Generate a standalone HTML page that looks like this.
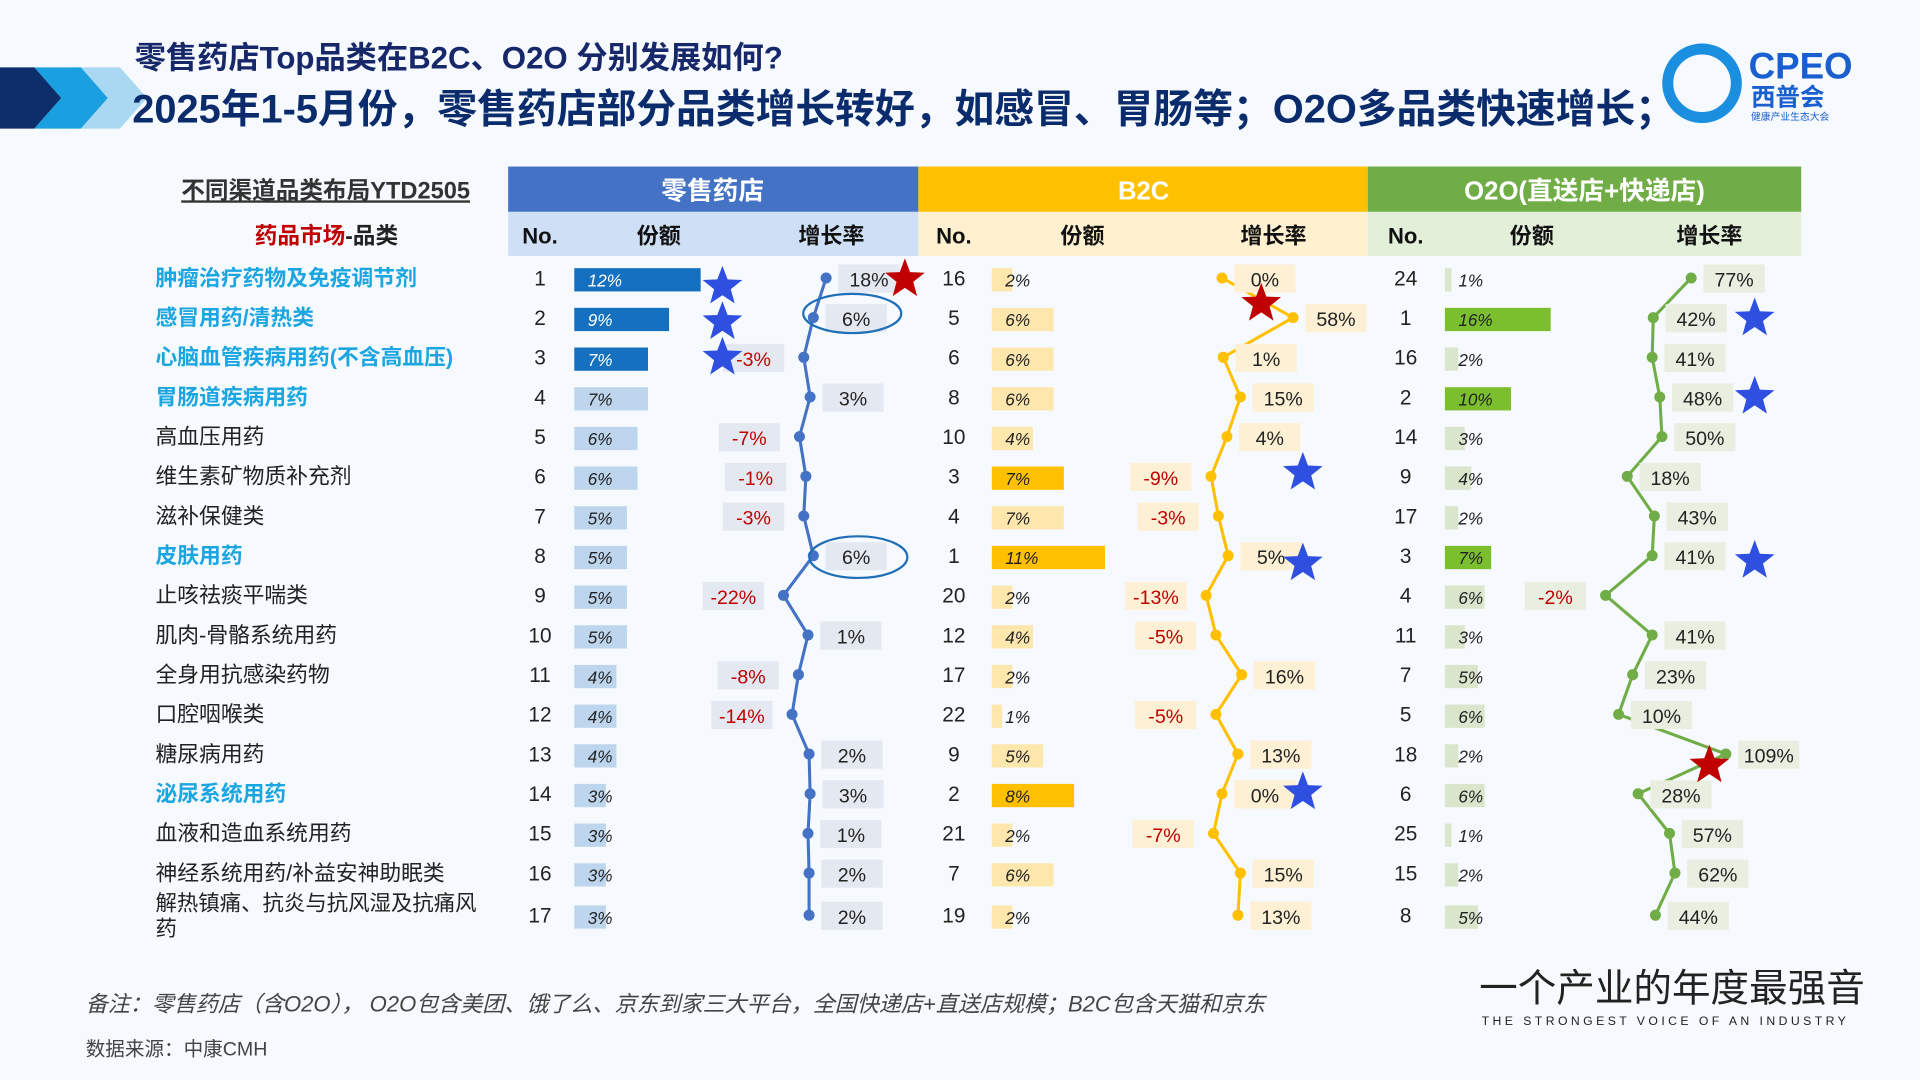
<!DOCTYPE html>
<html><head><meta charset="utf-8">
<style>
html,body{margin:0;padding:0;background:#f6f9fd;}
svg{display:block;font-family:"Liberation Sans","Noto Sans CJK SC",sans-serif;}
</style></head>
<body>
<svg id="chart" width="1920" height="1080" viewBox="0 0 1568 882" xmlns="http://www.w3.org/2000/svg">
<rect width="1568" height="882" fill="#f6f9fd"/>
<g>
<polygon points="60,55 98,55 120,80 98,105 60,105 82,80" fill="#a9d8f3"/>
<polygon points="28,55 66,55 88,80 66,105 28,105 50,80" fill="#1aa0e0"/>
<polygon points="0,55 28,55 50,80 28,105 0,105" fill="#0d2d6b"/>
</g>
<text x="110" y="56" font-size="25.5" font-weight="bold" fill="#17286a">零售药店Top品类在B2C、O2O 分别发展如何?</text>
<text x="108" y="100" font-size="32.5" font-weight="bold" fill="#0b2c6c">2025年1-5月份，零售药店部分品类增长转好，如感冒、胃肠等；O2O多品类快速增长；</text>
<g>
<circle cx="1390" cy="68" r="28" fill="none" stroke="#1a8fe0" stroke-width="9"/>
<text x="1428" y="64" font-size="30" font-weight="bold" fill="#1a5fd0">CPEO</text>
<text x="1430" y="86" font-size="20" font-weight="bold" fill="#1a5fd0">西普会</text>
<text x="1430" y="98" font-size="8" fill="#1a5fd0">健康产业生态大会</text>
</g>
<text x="148" y="162" font-size="19.3" font-weight="bold" fill="#333" text-decoration="underline">不同渠道品类布局YTD2505</text>
<text x="208" y="199" font-size="18.5" font-weight="bold"><tspan fill="#c00000">药品市场</tspan><tspan fill="#222">-品类</tspan></text>
<g>
<rect x="415" y="136" width="335" height="37" fill="#4472c4"/>
<rect x="415" y="173" width="335" height="36" fill="#cfe0f6"/>
<text x="582" y="163" font-size="21" font-weight="bold" fill="#fff" text-anchor="middle">零售药店</text>
</g>
<g>
<rect x="750" y="136" width="367" height="37" fill="#ffc000"/>
<rect x="750" y="173" width="367" height="36" fill="#fff1cf"/>
<text x="934" y="163" font-size="21" font-weight="bold" fill="#fff" text-anchor="middle">B2C</text>
</g>
<g>
<rect x="1117" y="136" width="354" height="37" fill="#70ad47"/>
<rect x="1117" y="173" width="354" height="36" fill="#e2efd9"/>
<text x="1294" y="163" font-size="21" font-weight="bold" fill="#fff" text-anchor="middle">O2O(直送店+快递店)</text>
</g>
<g font-size="18" font-weight="bold" fill="#111" text-anchor="middle">
<text x="441" y="199">No.</text><text x="538" y="199">份额</text><text x="679" y="199">增长率</text>
<text x="779" y="199">No.</text><text x="884" y="199">份额</text><text x="1040" y="199">增长率</text>
<text x="1148" y="199">No.</text><text x="1251" y="199">份额</text><text x="1396" y="199">增长率</text>
</g>
<g id="rows"></g>
<text x="70" y="826" font-size="18" font-style="italic" fill="#444">备注：零售药店（含O2O）， O2O包含美团、饿了么、京东到家三大平台，全国快递店+直送店规模；B2C包含天猫和京东</text>
<text x="70" y="862" font-size="16" fill="#444">数据来源：中康CMH</text>
<text x="1208" y="818" font-size="31.5" fill="#222">一个产业的年度最强音</text>
<text x="1210" y="837" font-size="10" fill="#222" letter-spacing="2.8">THE STRONGEST VOICE OF AN INDUSTRY</text>
</svg>
<script>
const categories=["肿瘤治疗药物及免疫调节剂","感冒用药/清热类","心脑血管疾病用药(不含高血压)","胃肠道疾病用药","高血压用药","维生素矿物质补充剂","滋补保健类","皮肤用药","止咳祛痰平喘类","肌肉-骨骼系统用药","全身用抗感染药物","口腔咽喉类","糖尿病用药","泌尿系统用药","血液和造血系统用药","神经系统用药/补益安神助眠类","解热镇痛、抗炎与抗风湿及抗痛风药"];
const highlightCats=[0,1,2,3,7,13];
const retailShare=[12,9,7,7,6,6,5,5,5,5,4,4,4,3,3,3,3];
const retailGrowth=[18,6,-3,3,-7,-1,-3,6,-22,1,-8,-14,2,3,1,2,2];
const b2cRank=[16,5,6,8,10,3,4,1,20,12,17,22,9,2,21,7,19];
const b2cShare=[2,6,6,6,4,7,7,11,2,4,2,1,5,8,2,6,2];
const b2cGrowth=[0,58,1,15,4,-9,-3,5,-13,-5,16,-5,13,0,-7,15,13];
const o2oRank=[24,1,16,2,14,9,17,3,4,11,7,5,18,6,25,15,8];
const o2oShare=[1,16,2,10,3,4,2,7,6,3,5,6,2,6,1,2,5];
const o2oGrowth=[77,42,41,48,50,18,43,41,-2,41,23,10,109,28,57,62,44];
const retailDark=[0,1,2];
const b2cDark=[5,7,13];
const o2oDark=[1,3,7];

const NS="http://www.w3.org/2000/svg";
const g=document.getElementById('rows');
function rowY(i){return 227+i*32.4+(i===16?2:0);}
const retailX=v=>659+v*0.87, b2cX=v=>998+v*1.0, o2oX=v=>1313+v*0.885;
const retailW=v=>v*8.6, b2cW=v=>v*8.4, o2oW=v=>v*5.4;
function el(tag,attrs,parent){const e=document.createElementNS(NS,tag);for(const k in attrs)e.setAttribute(k,attrs[k]);(parent||g).appendChild(e);return e;}
function txt(x,y,s,attrs,parent){const t=el('text',Object.assign({x:x,y:y},attrs),parent);t.textContent=s;return t;}

categories.forEach((c,i)=>{
  const y=rowY(i);
  const hl=highlightCats.includes(i);
  let t;
  if(i===16){
    t=txt(127,y-4,"解热镇痛、抗炎与抗风湿及抗痛风",{'font-size':17.5,fill:'#222'});
    
    
    const t2=txt(127,y+17,"药",{'font-size':17.5,fill:'#222'});
    
    
  } else {
    t=txt(127,y+6,c,{'font-size':17.8,fill:hl?'#1ba6e2':'#222','font-weight':hl?'bold':'normal'});
    
    
  }
  const n1=txt(441,y+6,String(i+1),{'font-size':17,fill:'#222','text-anchor':'middle'});
  
  
  const n2=txt(779,y+6,String(b2cRank[i]),{'font-size':17,fill:'#222','text-anchor':'middle'});
  
  
  const n3=txt(1148,y+6,String(o2oRank[i]),{'font-size':17,fill:'#222','text-anchor':'middle'});
  
  
  const specs=[[469,retailShare[i],retailW,retailDark.includes(i)?'#1570c0':'#bdd6ee',retailDark.includes(i)?'#fff':'#222','retail-share-bar'],
    [810,b2cShare[i],b2cW,b2cDark.includes(i)?'#ffc000':'#fde7ad','#222','b2c-share-bar'],
    [1180,o2oShare[i],o2oW,o2oDark.includes(i)?'#7cbf2e':'#d9e6cc','#222','o2o-share-bar']];
  specs.forEach(s=>{
    const r=el('rect',{x:s[0],y:y-8,width:Math.max(s[2](s[1]),4),height:19,fill:s[3]});
    
    
    const l=txt(s[0]+11,y+7,s[1]+'%',{'font-size':14,'font-style':'italic',fill:s[4]});
    
    
  });
});

function series(vals,xf,color,boxColor,name){
  const pts=vals.map((v,i)=>[xf(v),rowY(i)]);
  const p=el('polyline',{points:pts.map(p=>p.join(',')).join(' '),fill:'none',stroke:color,'stroke-width':2.5});
  
  
  pts.forEach((pt,i)=>{
    const v=vals[i];
    const pos=v>=0;
    const bx=pos?pt[0]+10:pt[0]-66;
    const b=el('rect',{x:bx,y:pt[1]-11,width:50,height:23,fill:boxColor});
    
    
    const t=txt(bx+25,pt[1]+7,v+'%',{'font-size':16,fill:pos?'#222':'#c00000','text-anchor':'middle'});
    
    
    const c=el('circle',{cx:pt[0],cy:pt[1],r:4.5,fill:color});
    
    
  });
  return pts;
}
series(retailGrowth,retailX,'#4472c4','#e4e9f1','retail-growth');
series(b2cGrowth,b2cX,'#ffc000','#fdf0d4','b2c-growth');
series(o2oGrowth,o2oX,'#70ad47','#e8efe0','o2o-growth');

function star(cx,cy,r,fill,name){
  const pts=[];for(let k=0;k<10;k++){const a=-Math.PI/2+k*Math.PI/5;const rr=k%2?r*0.42:r;pts.push((cx+rr*Math.cos(a)).toFixed(1)+','+(cy+rr*Math.sin(a)).toFixed(1));}
  const s=el('polygon',{points:pts.join(' '),fill:fill});
  
  
}
[[590,234],[590,263],[590,292]].forEach(p=>star(p[0],p[1],17,'#2f4fe0','highlight-star'));
star(739,228,17,'#c00000','top-growth-star');
star(1030,248,17,'#c00000','top-growth-star');
[[1064,386],[1064,460],[1064,647],[1433,260],[1433,324],[1433,458]].forEach(p=>star(p[0],p[1],17,'#2f4fe0','highlight-star'));
star(1396,625,17,'#c00000','top-growth-star');
const e1=el('ellipse',{cx:696,cy:256,rx:40,ry:16,fill:'none',stroke:'#1f6fb8','stroke-width':1.8});


const e2=el('ellipse',{cx:701,cy:455,rx:40,ry:17,fill:'none',stroke:'#1f6fb8','stroke-width':1.8});


</script>
</body></html>
